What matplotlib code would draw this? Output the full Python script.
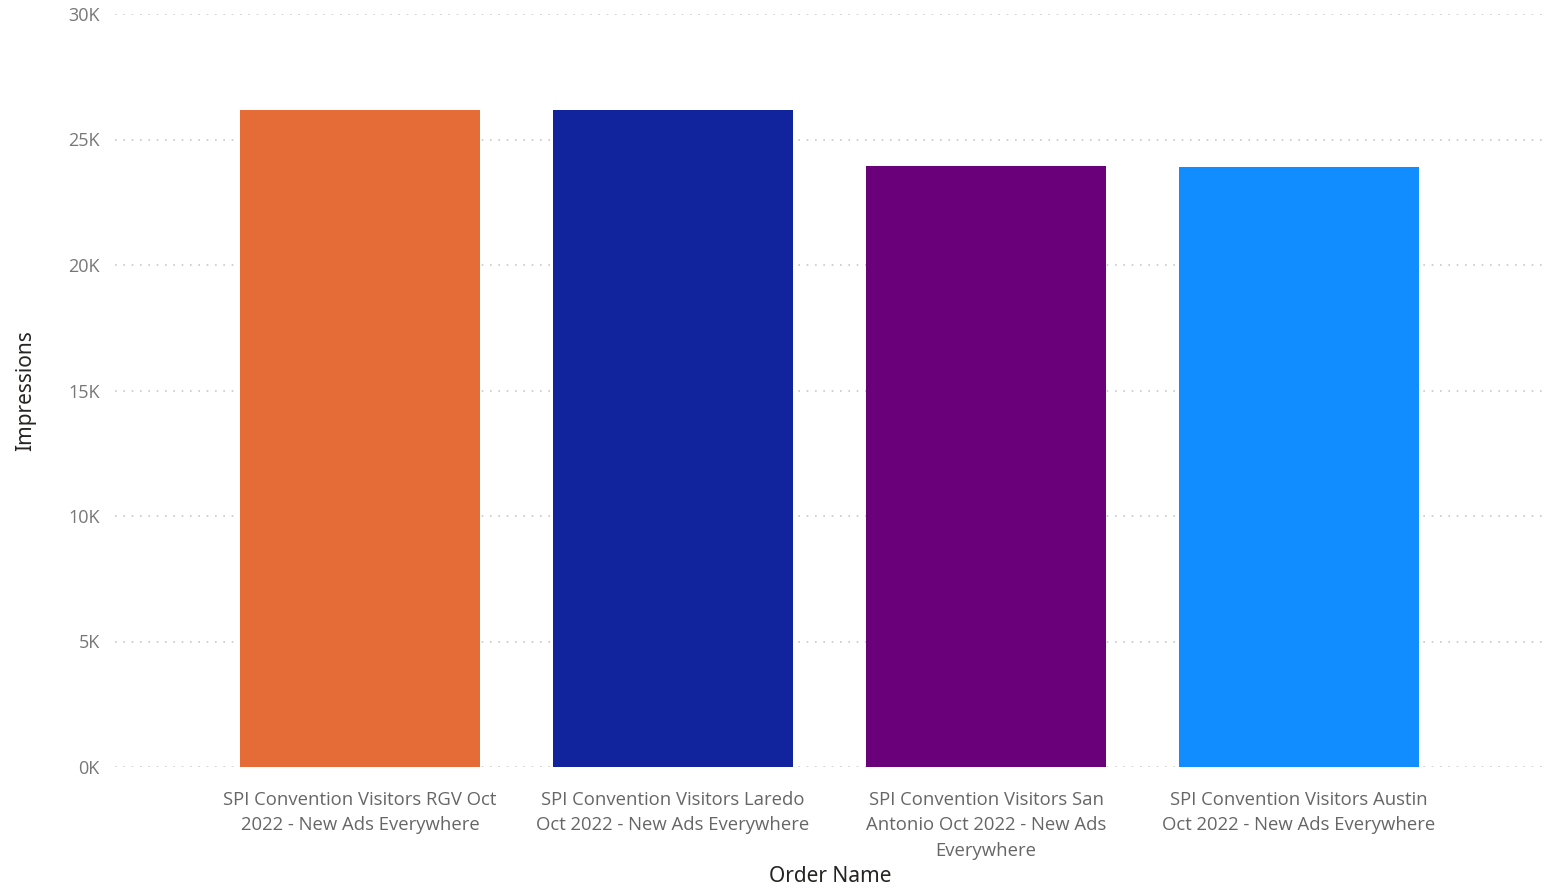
import matplotlib
matplotlib.use("Agg")
import matplotlib.pyplot as plt
from matplotlib.ticker import FuncFormatter

categories = [
    "SPI Convention Visitors RGV Oct\n2022 - New Ads Everywhere",
    "SPI Convention Visitors Laredo\nOct 2022 - New Ads Everywhere",
    "SPI Convention Visitors San\nAntonio Oct 2022 - New Ads\nEverywhere",
    "SPI Convention Visitors Austin\nOct 2022 - New Ads Everywhere",
]
impressions = [26180, 26170, 23950, 23920]
colors = ["#E66C37", "#12239E", "#6B007B", "#118DFF"]
yticks = [0, 5000, 10000, 15000, 20000, 25000, 30000]

plt.rcParams['font.family'] = ['Open Sans', 'DejaVu Sans']

fig = plt.figure(figsize=(15.54, 8.9), dpi=100)
ax = fig.add_axes([115/1554, 1 - 767/890, (1545-115)/1554, (767-14)/890])

x = list(range(len(categories)))
ax.bar(x, impressions, width=0.767, color=colors, zorder=3)

ax.set_ylim(0, 30000)
ax.set_xlim(-0.783, 3.786)
ax.set_yticks(yticks)
ax.yaxis.set_major_formatter(FuncFormatter(lambda v, p: f"{int(v/1000)}K"))
ax.set_xticks(x)
ax.set_xticklabels(categories, fontsize=13.3, color="#666666", linespacing=1.55)
ax.tick_params(axis='y', labelsize=13, labelcolor="#777777", length=0, pad=11)
ax.tick_params(axis='x', length=0, pad=17)
for lab in ax.get_yticklabels():
    lab.set_horizontalalignment('right')

ax.grid(axis='y', color="#C8C8C8", linestyle=(0, (1, 4)), linewidth=1.2, zorder=0)
for s in ax.spines.values():
    s.set_visible(False)

ax.set_ylabel("Impressions", fontsize=15, color="#252423", labelpad=23,
              family=['Noto Sans', 'DejaVu Sans'])
ax.set_xlabel("Order Name", fontsize=15, color="#252423", labelpad=4,
              family=['Noto Sans', 'DejaVu Sans'], fontweight='medium')

fig.savefig("out.png", dpi=100, facecolor="white")
